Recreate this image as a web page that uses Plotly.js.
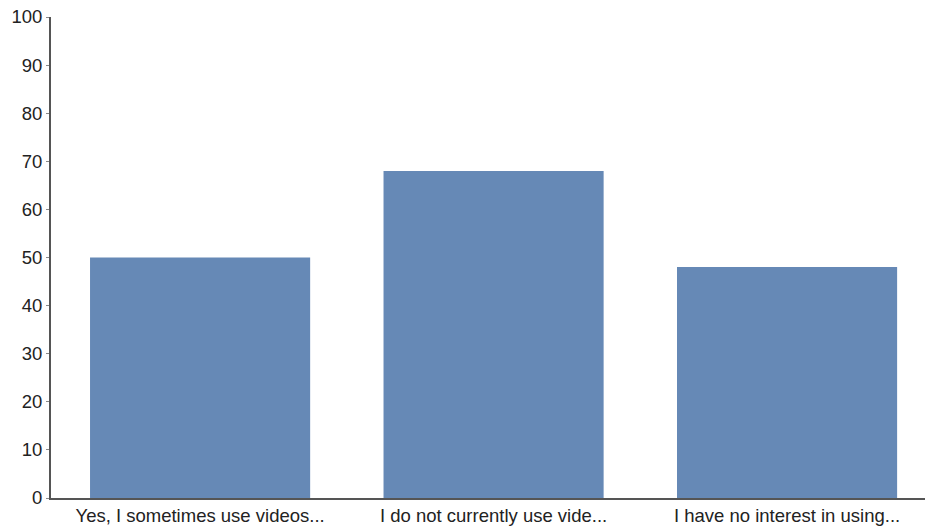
<!DOCTYPE html>
<html>
<head>
<meta charset="utf-8">
<script src="https://cdn.plot.ly/plotly-3.0.1.min.js"></script>
<style>html,body{margin:0;padding:0;background:#fff;}#chart{width:925px;height:531px;}</style>
</head>
<body>
<div id="chart"></div>
<script>
const categories = ["Yes, I sometimes use videos...", "I do not currently use vide...", "I have no interest in using..."];
const values = [50, 68, 48];
const yTicks = [0, 10, 20, 30, 40, 50, 60, 70, 80, 90, 100];

const data = [{
  type: 'bar',
  x: categories,
  y: values,
  marker: {color: '#6689b6'},
  hoverinfo: 'x+y'
}];

const layout = {
  width: 925, height: 531,
  margin: {l: 51, r: 0, t: 17, b: 33},
  paper_bgcolor: '#fff', plot_bgcolor: '#fff',
  bargap: 0.25,
  showlegend: false,
  font: {family: 'Liberation Sans, Arial, sans-serif', color: '#222', size: 18},
  xaxis: {
    range: [-0.508, 2.47],
    showgrid: false, zeroline: false,
    showline: true, linecolor: '#555', linewidth: 2,
    ticks: '', tickfont: {size: 18.5, color: '#222'}
  },
  yaxis: {
    range: [0, 100],
    tickvals: yTicks,
    showgrid: false, zeroline: false,
    showline: true, linecolor: '#555', linewidth: 2,
    ticks: 'outside', ticklen: 3, tickcolor: '#888',
    tickfont: {size: 18.5, color: '#222'}
  }
};

Plotly.newPlot('chart', data, layout, {displayModeBar: false, staticPlot: true});
</script>
</body>
</html>
